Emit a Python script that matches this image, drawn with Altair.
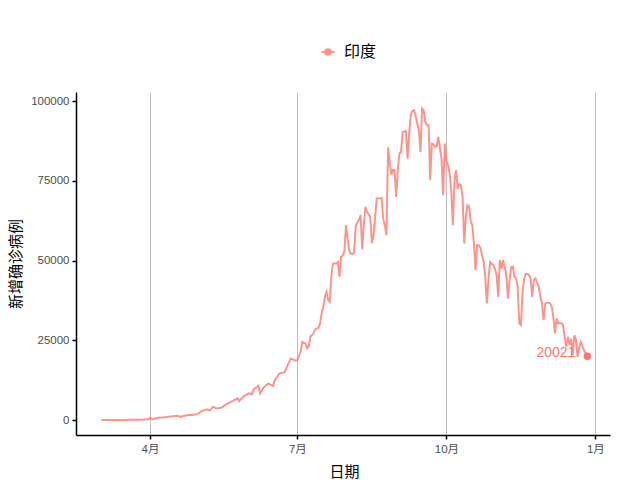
import altair as alt
import pandas as pd

country = "印度"
dates = [
    "03-02", "03-05", "03-10", "03-15", "03-20", "03-25", "03-28", "03-31",
    "04-01", "04-03", "04-06", "04-10", "04-14", "04-18", "04-20", "04-24", "04-27", "04-30",
    "05-03", "05-06", "05-08", "05-10", "05-12", "05-15", "05-18", "05-21", "05-25", "05-26", "05-29",
    "06-01", "06-03", "06-04", "06-07", "06-08", "06-10", "06-13", "06-16", "06-17", "06-20",
    "06-23", "06-25", "06-27", "06-30",
    "07-01", "07-03", "07-04", "07-06", "07-07", "07-08", "07-09", "07-11", "07-12", "07-14",
    "07-15", "07-16", "07-17", "07-18", "07-19", "07-20", "07-21", "07-22", "07-23", "07-25",
    "07-26", "07-27", "07-28", "07-29", "07-30", "07-31",
    "08-01", "08-02", "08-03", "08-04", "08-05", "08-06", "08-07", "08-08", "08-09", "08-10",
    "08-11", "08-12", "08-13", "08-15", "08-16", "08-17", "08-18", "08-19", "08-21", "08-22",
    "08-23", "08-24", "08-25", "08-26", "08-27", "08-28", "08-29", "08-30", "08-31",
    "09-01", "09-02", "09-03", "09-04", "09-05", "09-06", "09-07", "09-08", "09-09", "09-10",
    "09-11", "09-12", "09-13", "09-14", "09-15", "09-16", "09-17", "09-18", "09-19", "09-20",
    "09-21", "09-22", "09-23", "09-24", "09-25", "09-26", "09-27", "09-28", "09-29", "09-30",
    "10-01", "10-02", "10-03", "10-04", "10-05", "10-06", "10-07", "10-08", "10-09", "10-10",
    "10-11", "10-12", "10-13", "10-14", "10-15", "10-16", "10-17", "10-18", "10-19", "10-20",
    "10-21", "10-22", "10-23", "10-24", "10-25", "10-26", "10-27", "10-28", "10-29", "10-30",
    "10-31",
    "11-01", "11-02", "11-03", "11-04", "11-05", "11-06", "11-07", "11-08", "11-09", "11-10",
    "11-11", "11-12", "11-13", "11-14", "11-15", "11-16", "11-17", "11-18", "11-19", "11-20",
    "11-21", "11-22", "11-23", "11-24", "11-25", "11-26", "11-27", "11-28", "11-29", "11-30",
    "12-01", "12-02", "12-03", "12-04", "12-05", "12-06", "12-07", "12-08", "12-09", "12-10",
    "12-11", "12-12", "12-13", "12-14", "12-15", "12-16", "12-17", "12-18", "12-19", "12-20",
    "12-21", "12-22", "12-23", "12-24", "12-25", "12-26", "12-27",
]
cases = [
    2, 22, 15, 25, 60, 90, 150, 250,
    700, 300, 700, 850, 1100, 1350, 1000, 1570, 1600, 1780,
    2800, 3350, 3000, 4180, 3600, 3860, 4900, 5700, 6800, 5950, 7500,
    8350, 8100, 9600, 10750, 8350, 10100, 11500, 10650, 12500, 14600,
    14950, 17200, 19300, 18600,
    18800, 21400, 24500, 24000, 22500, 23000, 26100, 27200, 28500, 28900,
    30300, 33400, 35500, 38650, 40200, 37600, 37100, 45450, 49100, 49100,
    49600, 44900, 51200, 51500, 52800, 61100,
    57000, 53300, 52200, 52000, 52500, 60600, 62000, 62700, 64300, 53500,
    61000, 66900, 65300, 63700, 55400, 58000, 63700, 69500, 69600, 69700,
    63000, 61000, 58000, 85500, 81000, 77000, 78400, 78400, 70000,
    78500, 83600, 84100, 90400, 90500, 90600, 82000, 89900, 95600, 97000,
    97200, 95500, 93000, 90900, 84100, 97700, 97200, 93500, 92500, 92600,
    75200, 86700, 86500, 85700, 85800, 88800, 85200, 82000, 70500, 86700,
    81500, 79900, 77300, 72000, 61100, 75200, 78400, 72500, 74000, 73500,
    70000, 55400, 63700, 67400, 67000, 62200, 61100, 55400, 47000, 54900,
    54800, 54000, 51700, 49600, 44900, 36600, 44400, 49600, 49000, 48600,
    47500,
    45400, 38650, 50200, 47500, 50200, 48000, 45500, 38100, 43900, 48000,
    48100, 45000, 44500, 41800, 30300, 29800, 39700, 44400, 45800, 45800,
    45500, 44400, 38650, 43900, 44400, 43000, 41800, 38650, 36600, 31300,
    36500, 36800, 36800, 36600, 35500, 32400, 27200, 31900, 30300, 30500,
    30300, 29800, 26100, 23000, 26100, 23500, 25500, 20400, 26600, 25100,
    19800, 23000, 24500, 23000, 21900, 20900, 20021,
]
month_ticks = [(2020, 4), (2020, 7), (2020, 10), (2021, 1)]
y_ticks = [0, 25000, 50000, 75000, 100000]

df = pd.DataFrame({
    "date": ["2020-" + d for d in dates],
    "cases": cases,
    "country": [country] * len(cases),
})
last = df.tail(1)

FONT = "Liberation Sans, Noto Sans CJK SC"
COL = "#F8766D"

x_enc = alt.X(
    "date:T",
    scale=alt.Scale(
        type="utc",
        domain=[
            alt.DateTime(year=2020, month=2, date=15, hours=8, utc=True),
            alt.DateTime(year=2021, month=1, date=10, utc=True),
        ],
    ),
    axis=alt.Axis(
        values=[alt.DateTime(year=y, month=m, date=1, utc=True) for y, m in month_ticks],
        labelExpr="(utcmonth(datum.value) + 1) + '月'",
        title="日期",
        grid=True,
        gridColor="#BEBEBE",
        gridWidth=1,
        domainColor="black",
        domainWidth=1.5,
        tickColor="black",
        tickWidth=1.5,
        tickSize=4,
        labelPadding=4,
        labelColor="#4D4D4D",
        labelFontSize=11.5,
        labelFont=FONT,
        titleFont=FONT,
        titleFontSize=15,
        titleFontWeight="normal",
        titleColor="black",
        titleX=268,
        titleY=36,
        titleBaseline="middle",
        titleAlign="center",
        labelFlush=False,
    ),
)
y_enc = alt.Y(
    "cases:Q",
    scale=alt.Scale(domain=[-4700, 102900], nice=False, zero=False),
    axis=alt.Axis(
        values=y_ticks,
        format="d",
        title="新增确诊病例",
        grid=False,
        domainColor="black",
        domainWidth=1.5,
        tickColor="black",
        tickWidth=1.5,
        tickSize=4,
        labelPadding=3,
        labelColor="#4D4D4D",
        labelFontSize=11.5,
        labelFont=FONT,
        titleFont=FONT,
        titleFontSize=15,
        titleFontWeight="normal",
        titleColor="black",
        titleAngle=270,
        titleX=-61,
        titleY=171.5,
        titleBaseline="middle",
        titleAlign="center",
        labelFlush=False,
    ),
)
color_enc = alt.Color(
    "country:N",
    scale=alt.Scale(domain=[country], range=[COL]),
    legend=alt.Legend(
        title=None,
        orient="none",
        legendX=244,
        legendY=-48,
        labelFont=FONT,
        labelFontSize=16,
        labelColor="black",
        symbolType="M-1,0L1,0M-0.45,0a0.45,0.45 0 1,0 0.9,0a0.45,0.45 0 1,0 -0.9,0",
        symbolSize=170,
        symbolStrokeWidth=1.8,
        symbolFillColor=COL,
        symbolStrokeColor=COL,
        labelOffset=8,
    ),
)

line = alt.Chart(df).mark_line(strokeWidth=2, opacity=0.78).encode(
    x=x_enc, y=y_enc, color=color_enc
)
point = alt.Chart(last).mark_point(filled=True, size=55, opacity=1).encode(
    x=x_enc, y=y_enc, color=color_enc
)
label = alt.Chart(last).mark_text(
    align="right", baseline="middle", dx=-12, dy=-3, fontSize=14, font=FONT, color=COL
).encode(x=x_enc, y=y_enc, text="cases:Q")

chart = (
    alt.layer(line, point, label)
    .properties(
        width=534,
        height=343,
        background="white",
        autosize=alt.AutoSizeParams(type="none"),
        padding={"left": 68, "top": 84, "right": 22, "bottom": 45},
    )
    .configure_view(stroke=None)
)

chart.save("out.html", embed_options={"renderer": "svg", "actions": False})
